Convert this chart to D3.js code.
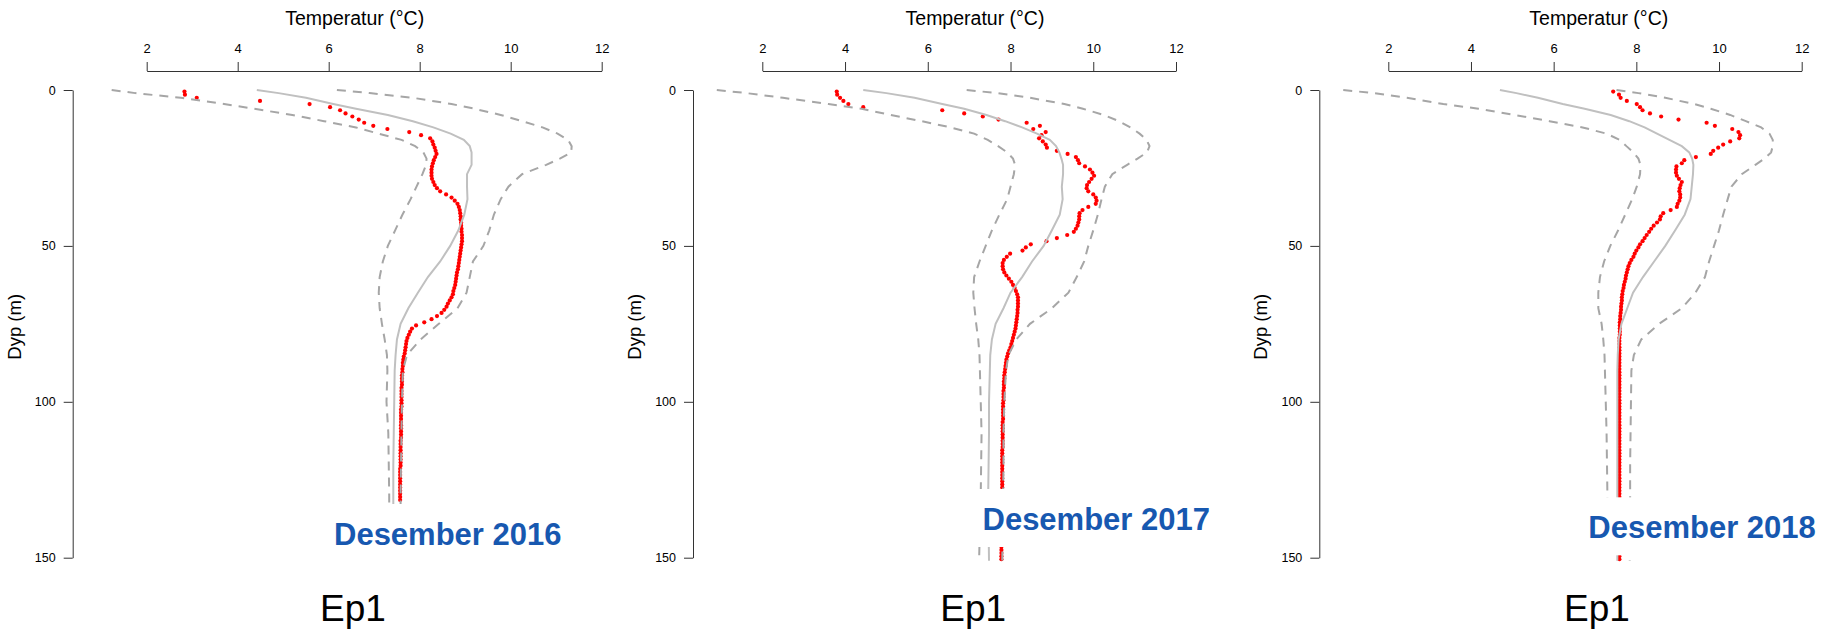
<!DOCTYPE html>
<html>
<head>
<meta charset="utf-8">
<script src="https://cdn.jsdelivr.net/npm/d3@7"></script>
<style>
  body { margin: 0; background: #fff; }
  svg { display: block; font-family: "Liberation Sans", Arial, Helvetica, sans-serif; }
  .tick text { fill: #000; }
  .axis path, .axis line { stroke: #333; }
</style>
</head>
<body>
<div id="chart"></div>
<script>
// depth grid (m) for the climatology lines
const climDepth = [0, 1, 2.5, 4.5, 6, 8, 10, 12, 14, 16, 18, 20, 22, 24, 27, 31, 35, 40, 45, 50,
                   55, 60, 65, 70, 75, 80, 85, 90, 100, 110, 120, 130, 140, 151];

// Desember 2016
const mean1  = [4.42, 4.9, 5.5, 6.1, 6.6, 7.3, 7.85, 8.3, 8.68, 8.97, 9.1, 9.14, 9.14, 9.14, 9.04, 9.04, 9.05, 8.98, 8.85, 8.67,
                8.45, 8.18, 7.96, 7.75, 7.58, 7.5, 7.47, 7.45, 7.44, 7.43, 7.42, 7.42, 7.42, 7.42];
const lower1 = [1.23, 1.75, 2.75, 3.7, 4.35, 5.2, 5.9, 6.6, 7.1, 7.6, 7.9, 8.08, 8.15, 8.14, 8.06, 7.93, 7.8, 7.62, 7.46, 7.3,
                7.19, 7.12, 7.1, 7.12, 7.17, 7.23, 7.28, 7.29, 7.27, 7.31, 7.32, 7.33, 7.33, 7.33];
const upper1 = [6.18, 6.9, 7.85, 8.7, 9.2, 9.78, 10.25, 10.7, 11.03, 11.26, 11.34, 11.33, 11.08, 10.78, 10.25, 9.95, 9.78, 9.63, 9.53, 9.4,
                9.17, 9.1, 9.03, 8.83, 8.42, 8.02, 7.72, 7.63, 7.61, 7.6, 7.59, 7.58, 7.58, 7.58];

// Desember 2017
const mean2  = [4.44, 5.0, 5.68, 6.35, 6.88, 7.42, 7.87, 8.28, 8.64, 8.95, 9.1, 9.18, 9.23, 9.27, 9.27, 9.24, 9.26, 9.19, 9.0, 8.8,
                8.52, 8.28, 8.0, 7.83, 7.64, 7.55, 7.51, 7.5, 7.48, 7.48, 7.47, 7.46, 7.47, 7.48];
const lower2 = [0.9, 1.62, 2.5, 3.6, 4.4, 5.1, 5.85, 6.55, 7.12, 7.45, 7.7, 7.92, 8.06, 8.11, 8.08, 8.0, 7.92, 7.73, 7.55, 7.4,
                7.25, 7.12, 7.1, 7.13, 7.17, 7.22, 7.25, 7.26, 7.28, 7.3, 7.29, 7.28, 7.26, 7.24];
const upper2 = [6.94, 7.68, 8.47, 9.3, 9.75, 10.25, 10.62, 10.9, 11.12, 11.29, 11.36, 11.3, 11.07, 10.82, 10.46, 10.28, 10.2, 10.11, 10.0, 9.88,
                9.78, 9.6, 9.4, 9.0, 8.47, 8.14, 7.95, 7.89, 7.85, 7.83, 7.83, 7.82, 7.81, 7.8];

// Desember 2018
const mean3  = [4.7, 5.1, 5.62, 6.22, 6.75, 7.38, 7.83, 8.2, 8.5, 8.8, 9.1, 9.28, 9.35, 9.38, 9.37, 9.34, 9.31, 9.17, 8.94, 8.7,
                8.43, 8.16, 7.92, 7.78, 7.64, 7.57, 7.55, 7.54, 7.54, 7.54, 7.54, 7.54, 7.54, 7.54];
const lower3 = [0.91, 1.65, 2.45, 3.33, 4.18, 5.06, 5.9, 6.7, 7.28, 7.6, 7.76, 7.93, 8.05, 8.1, 8.09, 8.01, 7.9, 7.73, 7.56, 7.37,
                7.22, 7.12, 7.08, 7.08, 7.16, 7.2, 7.23, 7.24, 7.26, 7.28, 7.29, 7.3, 7.3, 7.29];
const upper3 = [7.52, 8.05, 8.7, 9.4, 9.8, 10.27, 10.65, 11.02, 11.22, 11.3, 11.3, 11.26, 11.1, 10.88, 10.55, 10.3, 10.21, 10.1, 10.0, 9.88,
                9.76, 9.66, 9.43, 9.1, 8.55, 8.12, 7.94, 7.88, 7.87, 7.86, 7.85, 7.85, 7.84, 7.84];

// measured profiles, one value per metre starting at 0.5 m
const obs1 = [2.83, 2.84, 3.10, 4.49, 5.58, 6.03, 6.25, 6.37, 6.52, 6.66,
  6.78, 6.98, 7.29, 7.77, 8.03, 8.23, 8.28, 8.30, 8.33, 8.35,
  8.37, 8.34, 8.31, 8.29, 8.27, 8.26, 8.26, 8.26, 8.27, 8.30,
  8.33, 8.38, 8.45, 8.58, 8.70, 8.77, 8.83, 8.86, 8.88, 8.89,
  8.90, 8.90, 8.91, 8.91, 8.92, 8.92, 8.93, 8.93, 8.93, 8.92,
  8.91, 8.90, 8.89, 8.88, 8.87, 8.86, 8.85, 8.84, 8.82, 8.81,
  8.80, 8.79, 8.78, 8.76, 8.74, 8.73, 8.70, 8.66, 8.62, 8.59,
  8.54, 8.48, 8.38, 8.26, 8.10, 7.92, 7.83, 7.79, 7.76, 7.73,
  7.71, 7.70, 7.69, 7.68, 7.67, 7.65, 7.64, 7.63, 7.63, 7.62,
  7.62, 7.61, 7.61, 7.61, 7.61, 7.60, 7.60, 7.60, 7.60, 7.60,
  7.60, 7.60, 7.59, 7.59, 7.59, 7.59, 7.59, 7.59, 7.59, 7.59,
  7.59, 7.59, 7.58, 7.58, 7.58, 7.58, 7.58, 7.58, 7.58, 7.58,
  7.58, 7.57, 7.57, 7.57, 7.57, 7.57, 7.57, 7.57, 7.57, 7.57,
  7.57, 7.57];

const obs2 = [3.80, 3.81, 3.88, 3.96, 4.08, 4.44, 6.35, 6.88, 7.33, 7.71,
  8.39, 8.71, 8.55, 8.85, 8.75, 8.69, 8.78, 8.85, 8.88, 9.12,
  9.38, 9.58, 9.63, 9.66, 9.80, 9.92, 9.98, 10.02, 9.96, 9.90,
  9.85, 9.84, 9.88, 10.00, 10.06, 10.08, 10.06, 9.88, 9.74, 9.67,
  9.66, 9.66, 9.64, 9.62, 9.58, 9.53, 9.37, 9.12, 8.87, 8.49,
  8.37, 8.29, 7.99, 7.91, 7.84, 7.81, 7.81, 7.82, 7.85, 7.90,
  7.96, 8.02, 8.06, 8.10, 8.13, 8.16, 8.18, 8.18, 8.18, 8.18,
  8.17, 8.17, 8.16, 8.15, 8.14, 8.13, 8.12, 8.10, 8.08, 8.06,
  8.04, 8.02, 8.00, 7.97, 7.94, 7.92, 7.90, 7.89, 7.88, 7.87,
  7.86, 7.85, 7.85, 7.84, 7.84, 7.84, 7.83, 7.83, 7.83, 7.83,
  7.82, 7.82, 7.82, 7.82, 7.82, 7.82, 7.81, 7.81, 7.81, 7.81,
  7.81, 7.81, 7.81, 7.81, 7.81, 7.80, 7.80, 7.80, 7.80, 7.80,
  7.80, 7.80, 7.80, 7.80, 7.80, 7.80, 7.80, 7.80, 7.79, 7.79,
  7.79, 7.79, 7.79, 7.79, 7.79, 7.79, 7.79, 7.79, 7.79, 7.79,
  7.79, 7.79, 7.79, 7.78, 7.78, 7.78, 7.78, 7.78, 7.78, 7.78,
  7.78];

const obs3 = [7.44, 7.58, 7.62, 7.77, 8.01, 8.09, 8.15, 8.33, 8.60, 9.02,
  9.70, 9.90, 10.32, 10.47, 10.51, 10.49, 10.27, 10.10, 9.98, 9.86,
  9.80, 9.44, 9.16, 9.10, 8.97, 8.96, 8.96, 8.98, 9.03, 9.10,
  9.07, 9.05, 9.04, 9.06, 9.06, 9.04, 9.00, 8.98, 8.83, 8.65,
  8.59, 8.57, 8.50, 8.42, 8.36, 8.31, 8.25, 8.20, 8.15, 8.09,
  8.05, 8.00, 7.96, 7.93, 7.88, 7.84, 7.81, 7.79, 7.77, 7.75,
  7.74, 7.72, 7.70, 7.69, 7.67, 7.66, 7.65, 7.65, 7.64, 7.63,
  7.63, 7.62, 7.61, 7.61, 7.60, 7.60, 7.60, 7.60, 7.60, 7.59,
  7.59, 7.59, 7.59, 7.59, 7.59, 7.59, 7.59, 7.59, 7.59, 7.59,
  7.59, 7.59, 7.59, 7.59, 7.59, 7.59, 7.59, 7.59, 7.59, 7.59,
  7.59, 7.59, 7.59, 7.59, 7.59, 7.59, 7.59, 7.59, 7.59, 7.59,
  7.59, 7.59, 7.59, 7.59, 7.59, 7.59, 7.59, 7.59, 7.59, 7.59,
  7.59, 7.59, 7.59, 7.59, 7.59, 7.59, 7.59, 7.59, 7.59, 7.59,
  7.59, 7.59, 7.59, 7.59, 7.59, 7.59, 7.59, 7.59, 7.59, 7.59,
  7.59, 7.59, 7.59, 7.59, 7.59, 7.59, 7.59, 7.59, 7.59, 7.59,
  7.59];

const xTicks = [2, 4, 6, 8, 10, 12];
const yTicks = [0, 50, 100, 150];
const periodLabels = ["Desember 2016", "Desember 2017", "Desember 2018"];
const stationLabels = ["Ep1", "Ep1", "Ep1"];

const W = 1835, H = 630;

// layout of the three panels (pixels)
const panels = [
  {x2: 146.7,  x12: 601.7,  axisX: 72.7,   mid: 354.7,  labX: 334,    labBase: 545,   mean: mean1, lower: lower1, upper: upper1, obs: obs1},
  {x2: 762.3,  x12: 1176,   axisX: 693,    mid: 975,    labX: 982.5,  labBase: 530,   mean: mean2, lower: lower2, upper: upper2, obs: obs2},
  {x2: 1388.3, x12: 1801.7, axisX: 1319.3, mid: 1598.8, labX: 1588.3, labBase: 538.3, mean: mean3, lower: lower3, upper: upper3, obs: obs3}
];

const svg = d3.select("#chart").append("svg")
  .attr("width", W)
  .attr("height", H);

const y = d3.scaleLinear().domain([0, 150]).range([90, 557.7]);

panels.forEach((p, k) => {
  const x = d3.scaleLinear().domain([2, 12]).range([p.x2, p.x12]);
  const g = svg.append("g");

  const line = d3.line()
    .x(d => x(d.t))
    .y(d => y(d.d));
  const prof = arr => climDepth.map((d, i) => ({d: d, t: arr[i]}));

  // measured points
  g.selectAll("circle.obs")
    .data(p.obs.map((t, i) => ({d: i + 0.5, t: t})))
    .enter()
    .append("circle")
    .attr("class", "obs")
    .attr("cx", d => x(d.t))
    .attr("cy", d => y(d.d))
    .attr("r", 2.1)
    .attr("fill", "#ff0000");

  // climatology
  g.append("path")
    .datum(prof(p.mean))
    .attr("d", line)
    .attr("fill", "none")
    .attr("stroke", "#c0c0c0")
    .attr("stroke-width", 2);

  [p.lower, p.upper].forEach(arr => {
    g.append("path")
      .datum(prof(arr))
      .attr("d", line)
      .attr("fill", "none")
      .attr("stroke", "#a6a6a6")
      .attr("stroke-width", 2)
      .attr("stroke-dasharray", "9,7");
  });

  // axes
  const xAxis = g.append("g")
    .attr("class", "axis")
    .attr("transform", "translate(0,71)")
    .call(d3.axisTop(x).tickValues(xTicks).tickSize(9).tickSizeOuter(0).tickPadding(9.5));
  xAxis.selectAll("text").style("font-size", "13px");

  const yAxis = g.append("g")
    .attr("class", "axis")
    .attr("transform", `translate(${p.axisX},0)`)
    .call(d3.axisLeft(y).tickValues(yTicks).tickSize(9).tickSizeOuter(0).tickPadding(8));
  yAxis.selectAll("text").style("font-size", "12.5px");

  g.append("text")
    .attr("x", p.mid)
    .attr("y", 25)
    .attr("text-anchor", "middle")
    .style("font-size", "19.5px")
    .text("Temperatur (°C)");

  g.append("text")
    .attr("transform", `translate(${p.axisX - 52},326.8) rotate(-90)`)
    .attr("text-anchor", "middle")
    .style("font-size", "18.5px")
    .text("Dyp (m)");

  g.append("text")
    .attr("x", p.mid - 1.8)
    .attr("y", 620.7)
    .attr("text-anchor", "middle")
    .style("font-size", "37px")
    .text(stationLabels[k]);

  // period label on a white box
  const box = g.append("rect").attr("fill", "#fff");
  const lab = g.append("text")
    .attr("x", p.labX)
    .attr("y", p.labBase)
    .style("font-size", "31px")
    .style("font-weight", "bold")
    .attr("fill", "#1758b0")
    .text(periodLabels[k]);
  const tw = lab.node().getComputedTextLength();
  box.attr("x", p.labX - 8)
    .attr("y", p.labBase - 41)
    .attr("width", tw + 16)
    .attr("height", 58);
});
</script>
</body>
</html>
